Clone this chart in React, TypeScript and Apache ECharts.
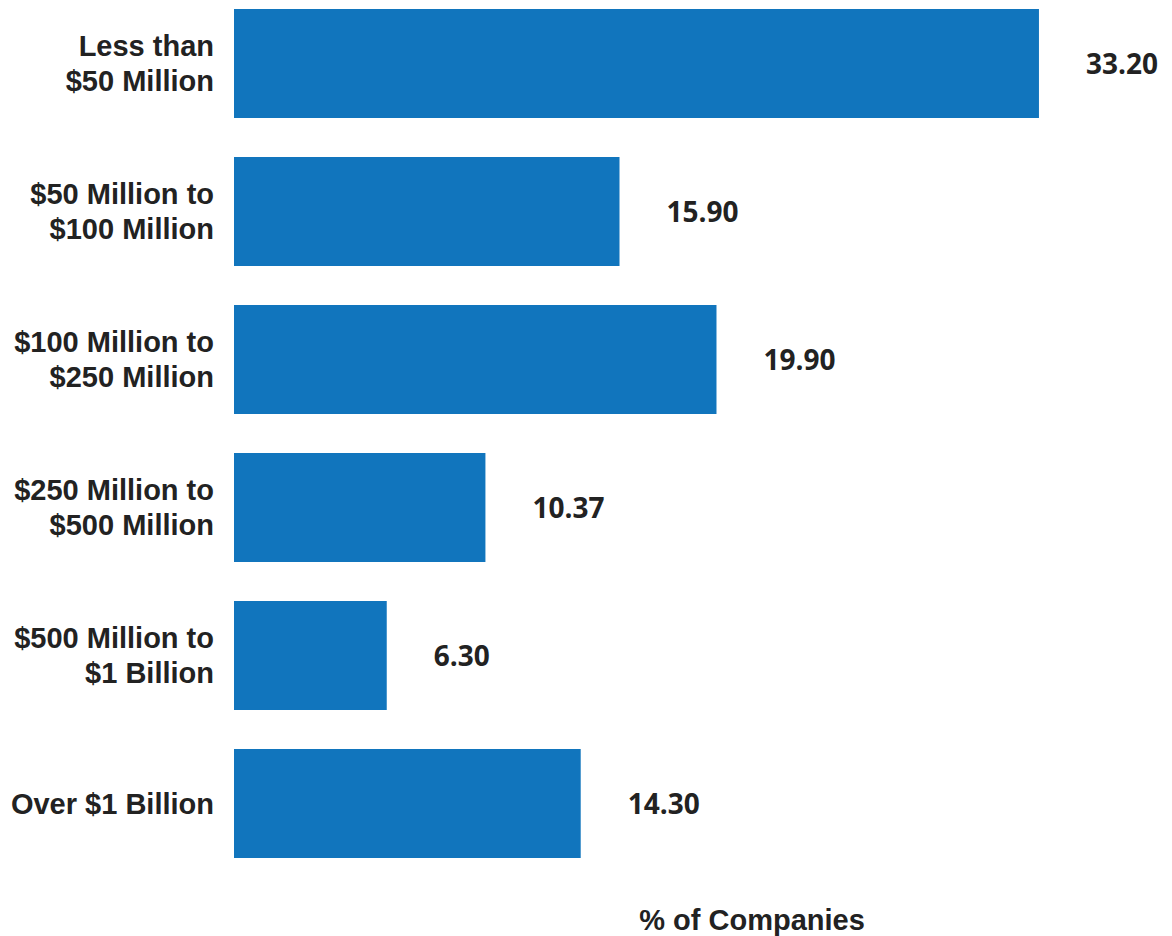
import React, { useEffect, useRef } from "react";
import * as echarts from "echarts";

const categories = [
  "Less than\n$50 Million",
  "$50 Million to\n$100 Million",
  "$100 Million to\n$250 Million",
  "$250 Million to\n$500 Million",
  "$500 Million to\n$1 Billion",
  "Over $1 Billion",
];
const values = [33.2, 15.9, 19.9, 10.37, 6.3, 14.3];
const axisTitle = "% of Companies";

export default function App() {
  const ref = useRef<HTMLDivElement>(null);
  useEffect(() => {
    if (!ref.current) return;
    const chart = echarts.init(ref.current, undefined, { renderer: "svg" });
    chart.setOption({
      animation: false,
      backgroundColor: "#ffffff",
      grid: { left: 234, right: 89.4, top: 0.5, bottom: 58.5, containLabel: false },
      xAxis: {
        type: "value",
        min: 0,
        max: 35,
        axisLine: { show: false },
        axisTick: { show: false },
        axisLabel: { show: false },
        splitLine: { show: false },
      },
      yAxis: {
        type: "category",
        data: categories,
        inverse: true,
        axisLine: { show: false },
        axisTick: { show: false },
        axisLabel: {
          margin: 20,
          align: "right",
          fontFamily: "Arial, 'Liberation Sans', sans-serif",
          fontWeight: "bold",
          fontSize: 29,
          lineHeight: 35,
          color: "#222222",
          padding: [0, 0, 6, 0],
        },
      },
      series: [
        {
          type: "bar",
          data: values,
          barWidth: 109,
          itemStyle: { color: "#1175BD" },
          label: {
            show: true,
            position: "right",
            distance: 47,
            formatter: (p: any) => Number(p.value).toFixed(2),
            fontFamily: "'Open Sans', sans-serif",
            fontWeight: "bold",
            fontSize: 28,
            color: "#222222",
            offset: [0, -1],
          },
        },
      ],
      graphic: [
        {
          type: "text",
          x: 752,
          y: 931,
          style: {
            text: axisTitle,
            fontFamily: "Arial, 'Liberation Sans', sans-serif",
            fontWeight: "bold",
            fontSize: 29,
            fill: "#222222",
            textAlign: "center",
            textVerticalAlign: "middle",
          },
        },
      ],
    });
    return () => chart.dispose();
  }, []);
  return (
    <div
      ref={ref}
      style={{ position: "fixed", left: 0, top: -11, width: 1172, height: 947 }}
    />
  );
}
